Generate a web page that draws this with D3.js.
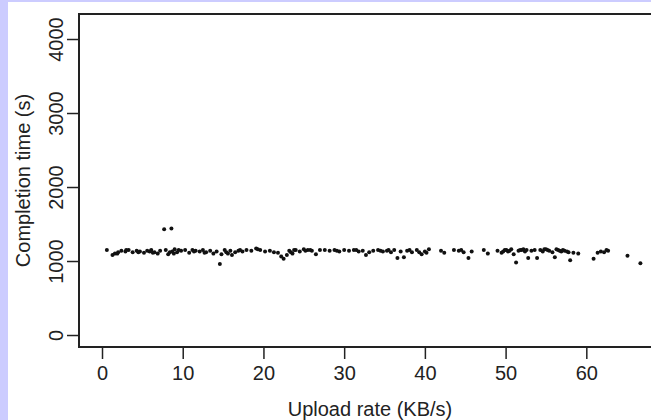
<!DOCTYPE html>
<html>
<head>
<meta charset="utf-8">
<script src="https://cdn.jsdelivr.net/npm/d3@7"></script>
<style>
  html, body { margin: 0; padding: 0; background: #fff; }
  svg { display: block; }
</style>
</head>
<body>
<svg id="chart"></svg>
<script>
// data
const uploadRate = [
  0.6, 1.3, 1.6, 2.0, 2.4, 2.9, 3.3, 3.8, 4.3, 4.7, 5.2, 5.6, 6.1, 6.5, 6.9, 7.2, 7.7, 7.9, 8.2, 8.6,
  8.7, 9.0, 9.3, 9.8, 10.3, 10.8, 11.2, 11.6, 12.1, 12.5, 12.9, 13.4, 13.8, 14.2, 14.6, 14.8, 15.2, 15.6, 16.1, 16.5,
  16.9, 17.4, 17.9, 18.5, 19.1, 19.6, 20.2, 20.8, 21.3, 21.8, 22.2, 22.5, 22.9, 23.2, 23.6, 24.0, 24.5, 25.0, 25.5, 26.0,
  26.5, 27.0, 27.6, 28.2, 28.8, 29.4, 30.0, 30.6, 31.2, 31.8, 32.3, 32.7, 33.1, 33.6, 34.2, 34.8, 35.3, 35.8, 36.2, 36.6,
  37.0, 37.4, 37.8, 38.4, 39.0, 39.6, 40.0, 40.5, 42.0, 42.4, 43.6, 44.2, 44.8, 45.4, 45.8, 47.3, 47.8, 49.0, 49.5, 49.9,
  50.3, 50.7, 51.0, 51.3, 51.6, 52.0, 52.4, 52.8, 53.2, 53.6, 53.9, 54.3, 54.6, 55.0, 55.4, 55.8, 56.1, 56.5, 56.9, 57.3,
  57.8, 58.0, 58.4, 59.0, 60.9, 61.4, 62.2, 62.7, 65.1, 66.7,
  1.9, 3.0, 4.5, 5.9, 6.3, 8.4, 8.9, 9.5, 11.4, 12.7, 15.4, 15.9, 17.1, 19.3, 23.4, 23.8, 25.2, 25.8, 29.1, 31.5,
  34.5, 35.5, 38.1, 39.3, 40.2, 44.5, 49.7, 50.1, 50.5, 51.8, 52.2, 52.6, 54.8, 55.2, 56.3, 56.7, 57.1, 57.6, 61.8, 62.5
];
const completionTime = [
  1150, 1080, 1100, 1120, 1140, 1130, 1150, 1120, 1140, 1130, 1110, 1140, 1150, 1120, 1100, 1140, 1430, 1150, 1090, 1440,
  1130, 1160, 1120, 1140, 1150, 1110, 1150, 1140, 1130, 1150, 1120, 1140, 1100, 1130, 960, 1090, 1150, 1100, 1080, 1120,
  1140, 1130, 1150, 1140, 1170, 1150, 1130, 1140, 1120, 1110, 1060, 1030, 1080, 1140, 1100, 1150, 1130, 1160, 1150, 1140,
  1090, 1150, 1150, 1140, 1150, 1130, 1150, 1140, 1150, 1130, 1140, 1080, 1120, 1140, 1150, 1130, 1140, 1120, 1150, 1040,
  1130, 1050, 1140, 1120, 1150, 1090, 1130, 1160, 1140, 1110, 1150, 1140, 1120, 1040, 1130, 1150, 1100, 1140, 1110, 1150,
  1130, 1160, 1090, 980, 1140, 1150, 1130, 1040, 1140, 1150, 1040, 1150, 1130, 1160, 1140, 1120, 1050, 1150, 1130, 1140,
  1120, 1010, 1110, 1100, 1030, 1110, 1120, 1140, 1070, 970,
  1100, 1150, 1120, 1130, 1110, 1120, 1100, 1150, 1130, 1110, 1120, 1140, 1150, 1160, 1120, 1150, 1140, 1150, 1140, 1150,
  1140, 1150, 1150, 1120, 1110, 1150, 1130, 1150, 1140, 1150, 1160, 1150, 1160, 1150, 1160, 1140, 1150, 1130, 1130, 1150
];
const xTicks = [0, 10, 20, 30, 40, 50, 60];
const yTicks = [0, 1000, 2000, 3000, 4000];

const width = 651;
const height = 420;
const font = "'Liberation Sans', Arial, sans-serif";
const ink = "#222";

const svg = d3.select("#chart").attr("width", width).attr("height", height);

// lavender frame of the slide
svg.append("rect").attr("x", 0).attr("y", 0).attr("width", width).attr("height", height).attr("fill", "#fff");
svg.append("rect").attr("x", 0).attr("y", 0).attr("width", 8).attr("height", height).attr("fill", "#ccccff");
svg.append("rect").attr("x", 0).attr("y", 0).attr("width", width).attr("height", 2).attr("fill", "#ccccff");

// plot box (runs past the right edge)
const box = { left: 79, top: 14, right: 663, bottom: 347 };

const x = d3.scaleLinear().domain([-2.85, 69.5]).range([box.left, box.right]);
const y = d3.scaleLinear().domain([-162, 4338]).range([box.bottom, box.top]);

// points
svg.append("g")
  .selectAll("circle")
  .data(uploadRate.map((d, i) => [d, completionTime[i]]))
  .join("circle")
  .attr("cx", d => x(d[0]))
  .attr("cy", d => y(d[1]))
  .attr("r", 2)
  .attr("fill", "#111");

// x axis
const xAxis = svg.append("g")
  .attr("transform", `translate(0,${box.bottom})`)
  .call(d3.axisBottom(x).tickValues(xTicks).tickSize(12).tickSizeOuter(0));
xAxis.select(".domain").remove();
xAxis.selectAll(".tick line").attr("stroke", ink).attr("stroke-width", 1.5);
xAxis.selectAll(".tick text")
  .attr("y", 33).attr("dy", 0)
  .attr("fill", ink)
  .style("font-family", font).style("font-size", "20px");

// y axis, labels turned like in R
const yAxis = svg.append("g")
  .attr("transform", `translate(${box.left},0)`)
  .call(d3.axisLeft(y).tickValues(yTicks).tickFormat(d3.format("d")).tickSize(12).tickSizeOuter(0));
yAxis.select(".domain").remove();
yAxis.selectAll(".tick line").attr("stroke", ink).attr("stroke-width", 1.5);
yAxis.selectAll(".tick text")
  .attr("x", 0).attr("dy", 0)
  .attr("text-anchor", "middle")
  .attr("transform", "translate(-16,0) rotate(-90)")
  .attr("fill", ink)
  .style("font-family", font).style("font-size", "20px");

// frame
svg.append("rect")
  .attr("x", box.left).attr("y", box.top)
  .attr("width", box.right - box.left).attr("height", box.bottom - box.top)
  .attr("fill", "none").attr("stroke", ink).attr("stroke-width", 2);

// axis titles
svg.append("text")
  .attr("x", 370).attr("y", 416)
  .attr("text-anchor", "middle")
  .attr("fill", ink)
  .style("font-family", font).style("font-size", "20px")
  .text("Upload rate (KB/s)");

svg.append("text")
  .attr("transform", `translate(30,${(box.top + box.bottom) / 2}) rotate(-90)`)
  .attr("text-anchor", "middle")
  .attr("fill", ink)
  .style("font-family", font).style("font-size", "20px")
  .text("Completion time (s)");
</script>
</body>
</html>
